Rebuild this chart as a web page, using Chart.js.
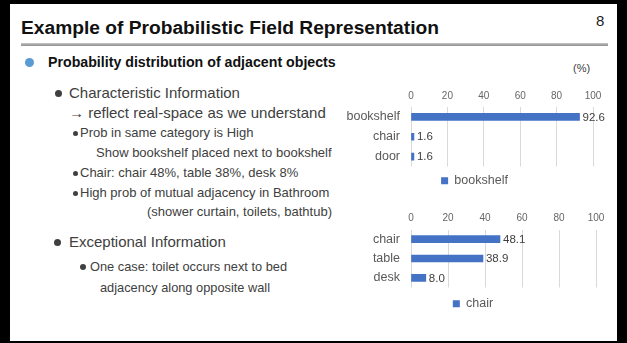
<!DOCTYPE html>
<html>
<head>
<meta charset="utf-8">
<script src="https://cdn.jsdelivr.net/npm/chart.js@4/dist/chart.umd.min.js"></script>
<style>
    html, body { margin: 0; padding: 0; }
    body { width: 627px; height: 343px; background: #000; position: relative; overflow: hidden;
           font-family: "Liberation Sans", Arial, sans-serif; }
    .slide { position: absolute; left: 10px; top: 4px; width: 607px; height: 337px; background: #fff; }
    .t { position: absolute; white-space: nowrap; color: #404040; line-height: 20px; }
    .dot { position: absolute; border-radius: 50%; background: #404040; }
    .chartBox { position: absolute; }
</style>
</head>
<body>
<div class="slide"></div>

<!-- header -->
<div class="t" style="left:21px; top:16px; font-size:19.2px; font-weight:bold; color:#111; line-height:24px;">Example of Probabilistic Field Representation</div>
<div class="t" style="left:596px; top:11px; font-size:15px; color:#222;">8</div>
<div style="position:absolute; left:21px; top:43px; width:587px; height:3px; background:linear-gradient(#c8c8c8, #8c8c8c);"></div>

<!-- bullets -->
<div class="dot" style="left:25px; top:58px; width:9px; height:9px; background:#5b9bd5;"></div>
<div class="t" style="left:48px; top:52px; font-size:14.2px; font-weight:bold; color:#111;">Probability distribution of adjacent objects</div>
<div class="t" style="left:573px; top:58px; font-size:11px; color:#404040;">(%)</div>

<div class="dot" style="left:55px; top:90px; width:7px; height:7px;"></div>
<div class="t" style="left:69px; top:83px; font-size:15px;">Characteristic Information</div>
<div class="t" style="left:69px; top:103px; font-size:15px;">→ reflect real-space as we understand</div>

<div class="dot" style="left:73px; top:131px; width:5px; height:5px;"></div>
<div class="t" style="left:80px; top:123px; font-size:13px;">Prob in same category is High</div>
<div class="t" style="left:96px; top:143px; font-size:13px;">Show bookshelf placed next to bookshelf</div>
<div class="dot" style="left:73px; top:171px; width:5px; height:5px;"></div>
<div class="t" style="left:80px; top:163px; font-size:13px;">Chair: chair 48%, table 38%, desk 8%</div>
<div class="dot" style="left:73px; top:191px; width:5px; height:5px;"></div>
<div class="t" style="left:80px; top:183px; font-size:13px;">High prob of mutual adjacency in Bathroom</div>
<div class="t" style="left:147px; top:202px; font-size:13px;">(shower curtain, toilets, bathtub)</div>

<div class="dot" style="left:54px; top:239px; width:7px; height:7px;"></div>
<div class="t" style="left:69px; top:232px; font-size:15px;">Exceptional Information</div>
<div class="dot" style="left:80px; top:264px; width:6px; height:6px;"></div>
<div class="t" style="left:90px; top:257px; font-size:12.8px;">One case: toilet occurs next to bed</div>
<div class="t" style="left:100px; top:278px; font-size:12.8px;">adjacency along opposite wall</div>

<!-- charts -->
<div class="chartBox" style="left:330px; top:85px; width:292px; height:112px;"><canvas id="shelfChart"></canvas></div>
<div class="chartBox" style="left:330px; top:207px; width:292px; height:113px;"><canvas id="chairChart"></canvas></div>

<script>
// data
const shelfCategories = ['bookshelf', 'chair', 'door'];
const shelfValues = [92.6, 1.6, 1.6];
const chairCategories = ['chair', 'table', 'desk'];
const chairValues = [48.1, 38.9, 8.0];
const tickValues = [0, 20, 40, 60, 80, 100];

const barColor = '#4472c4';

// draws the number at the end of each bar
const valueLabels = {
    id: 'valueLabels',
    afterDatasetsDraw(chart) {
        const ctx = chart.ctx;
        ctx.save();
        ctx.font = '11.5px "Liberation Sans", Arial, sans-serif';
        ctx.fillStyle = '#404040';
        ctx.textBaseline = 'middle';
        ctx.textAlign = 'left';
        chart.data.datasets.forEach((ds, i) => {
            chart.getDatasetMeta(i).data.forEach((bar, j) => {
                ctx.fillText(ds.data[j].toFixed(1), bar.x + 3, bar.y + 0.5);
            });
        });
        ctx.restore();
    }
};

// legend sits under the plot, a bit right of the canvas centre
function legendShift(dx) {
    return {
        id: 'legendShift',
        afterLayout(chart) {
            chart.legend.left += dx;
            chart.legend.right += dx;
        }
    };
}

function makeChart(id, categories, values, name, axisHeight, rightPad, dx, legendPad) {
    return new Chart(document.getElementById(id), {
        type: 'bar',
        plugins: [valueLabels, legendShift(dx)],
        data: {
            labels: categories,
            datasets: [{
                label: name,
                data: values,
                backgroundColor: barColor,
                barThickness: 7
            }]
        },
        options: {
            indexAxis: 'y',
            responsive: true,
            maintainAspectRatio: false,
            animation: false,
            layout: { padding: { right: rightPad } },
            scales: {
                x: {
                    position: 'top',
                    min: 0,
                    max: 100,
                    afterBuildTicks: s => { s.ticks = tickValues.map(v => ({ value: v })); },
                    afterFit: s => { s.height = axisHeight; },
                    ticks: { color: '#666', font: { size: 10 }, padding: 5 },
                    grid: { color: '#d9d9d9', drawTicks: false },
                    border: { display: false }
                },
                y: {
                    afterFit: s => { s.width = 81; },
                    ticks: { color: '#595959', font: { size: 12.5 }, padding: 11 },
                    grid: { display: false, drawTicks: false },
                    border: { display: false }
                }
            },
            plugins: {
                legend: {
                    position: 'bottom',
                    labels: {
                        boxWidth: 7,
                        boxHeight: 7,
                        padding: legendPad,
                        color: '#595959',
                        font: { size: 12.5 }
                    }
                },
                tooltip: { enabled: false }
            }
        }
    });
}

Chart.defaults.font.family = '"Liberation Sans", Arial, sans-serif';

makeChart('shelfChart', shelfCategories, shelfValues, 'bookshelf', 22, 29, 13, 8);
makeChart('chairChart', chairCategories, chairValues, 'chair', 22.5, 26, 10, 10);
</script>
</body>
</html>
